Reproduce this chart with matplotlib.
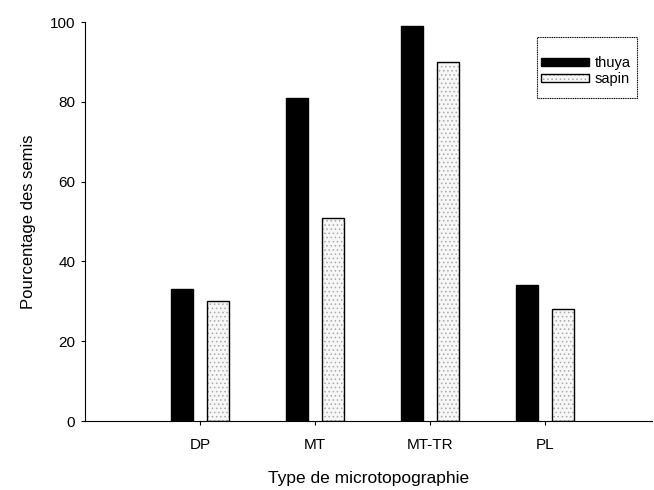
import matplotlib
matplotlib.use("Agg")
import matplotlib.pyplot as plt
from matplotlib.patches import Rectangle
import numpy as np

plt.rcParams['font.family'] = ['Liberation Sans', 'DejaVu Sans']
plt.rcParams['hatch.linewidth'] = 0.6

categories = ["DP", "MT", "MT-TR", "PL"]
thuya = [33, 81, 99, 34]
sapin = [30, 51, 90, 28]

fig = plt.figure(figsize=(6.54, 4.9), dpi=100)
ax = fig.add_axes([85 / 654, 1 - 421 / 490, (652 - 85) / 654, (421 - 22) / 490])

x = np.arange(len(categories))
w = 0.19
off = 0.155
b1 = ax.bar(x - off, thuya, w, color="black", edgecolor="black", linewidth=1)
# dotted fill in light grey, black outline drawn on top
b2h = ax.bar(x + off, sapin, w, color="#f7f7f7", edgecolor="#aaaaaa", linewidth=0,
             hatch="....")
b2o = ax.bar(x + off, sapin, w, color="none", edgecolor="black", linewidth=1)

ax.set_xlim(-1, 3.93)
ax.set_ylim(0, 100)
ax.set_yticks(np.arange(0, 101, 20))
ax.set_xticks(x)
ax.set_xticklabels(categories, fontsize=11)
ax.tick_params(axis="y", labelsize=11, length=3, direction="out", pad=4)
ax.tick_params(axis="x", length=3, direction="out", pad=9)
ax.spines["top"].set_visible(False)
ax.spines["right"].set_visible(False)
ax.set_ylabel("Pourcentage des semis", fontsize=12, labelpad=10)
ax.set_xlabel("Type de microtopographie", fontsize=12.5, labelpad=14)

leg = ax.legend([b1[0], (b2h[0], b2o[0])], ["thuya", "sapin"],
                loc="upper left", bbox_to_anchor=(541 / 654, 1 - 56 / 490),
                bbox_transform=fig.transFigure, fontsize=10.5, frameon=False,
                handlelength=3.3, handleheight=0.45, borderpad=0,
                borderaxespad=0, labelspacing=0.15, handletextpad=0.4)

fig.add_artist(Rectangle((537 / 654, 1 - 98 / 490), 100 / 654, 61 / 490,
                         transform=fig.transFigure, fill=False,
                         edgecolor="black", linewidth=0.8, linestyle=(0, (1, 0.6))))

fig.savefig("out.png", dpi=100)
